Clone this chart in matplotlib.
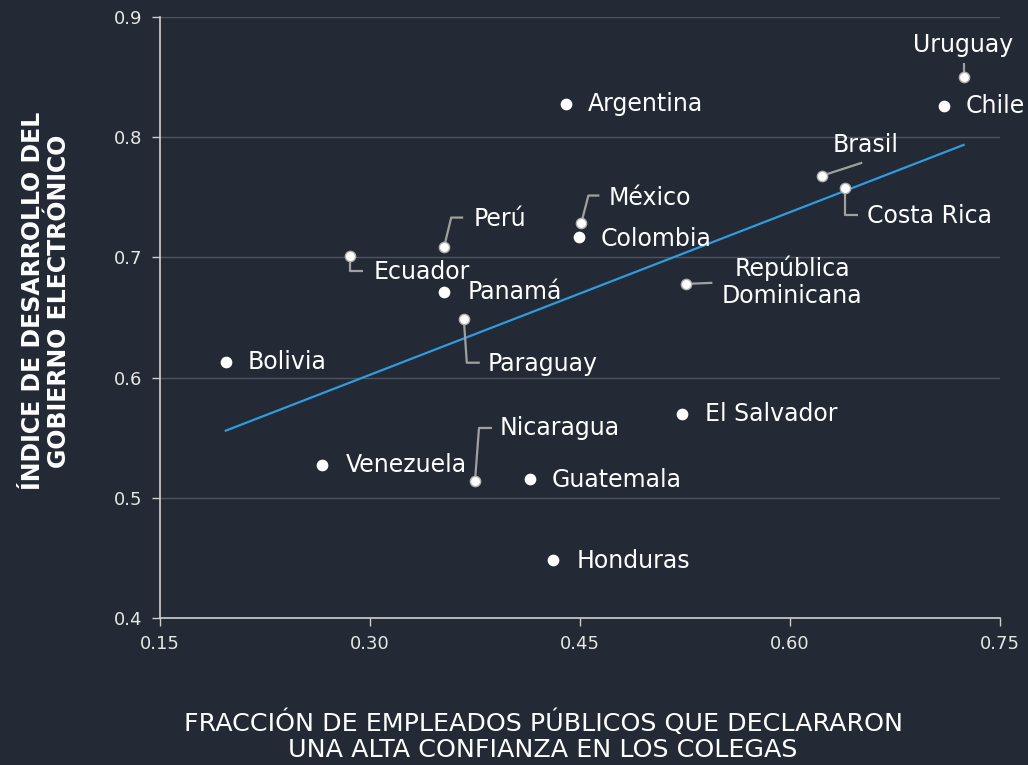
import numpy as np
import matplotlib
matplotlib.use("Agg")
import matplotlib.pyplot as plt

# ---- data ----
countries = ["Uruguay", "Chile", "Argentina", "Brasil", "Costa Rica", "México",
             "Colombia", "Perú", "Ecuador", "Panamá", "Paraguay",
             "República\nDominicana", "Bolivia", "El Salvador", "Venezuela",
             "Nicaragua", "Guatemala", "Honduras"]
trust = [0.724, 0.710, 0.440, 0.623, 0.639, 0.451,
         0.449, 0.353, 0.286, 0.353, 0.367,
         0.526, 0.197, 0.523, 0.266,
         0.375, 0.414, 0.431]
egov = [0.850, 0.826, 0.828, 0.768, 0.758, 0.729,
        0.717, 0.709, 0.701, 0.671, 0.649,
        0.678, 0.613, 0.570, 0.527,
        0.514, 0.516, 0.448]
xticks = [0.15, 0.30, 0.45, 0.60, 0.75]
xtick_labels = ["0.15", "0.30", "0.45", "0.60", "0.75"]
yticks = [0.4, 0.5, 0.6, 0.7, 0.8, 0.9]
ytick_labels = ["0.4", "0.5", "0.6", "0.7", "0.8", "0.9"]

# ---- style / label placement (pixel offsets, y up) ----
BG = "#232a35"
FONT = "DejaVu Sans"
# name: (text offset dx, dy, ha, leader vertices or None)
label_style = {
    "Uruguay": (0, 32, "center", [(0, 0), (0, 14)]),
    "Chile": (22, 0, "left", None),
    "Argentina": (22, 0, "left", None),
    "Brasil": (10, 31, "left", [(0, 0), (40, 13)]),
    "Costa Rica": (22, -28, "left", [(0, 0), (0, -27), (13, -27)]),
    "México": (27, 25, "left", [(0, 0), (7, 27), (18, 27)]),
    "Colombia": (22, -2, "left", None),
    "Perú": (29, 28, "left", [(0, 0), (7, 29), (19, 29)]),
    "Ecuador": (23, -16, "left", [(0, 0), (0, -15), (13, -15)]),
    "Panamá": (23, 0, "left", None),
    "Paraguay": (24, -45, "left", [(0, 0), (3, -44), (16, -44)]),
    "República\nDominicana": (106, 2, "center", [(0, 0), (26, 1)]),
    "Bolivia": (22, 0, "left", None),
    "El Salvador": (23, 0, "left", None),
    "Venezuela": (23, 0, "left", None),
    "Nicaragua": (25, 53, "left", [(0, 0), (4, 53), (17, 53)]),
    "Guatemala": (22, -1, "left", None),
    "Honduras": (23, -1, "left", None),
}

W, H = 1028, 765
fig = plt.figure(figsize=(W / 100, H / 100), dpi=100, facecolor=BG)
ax = fig.add_axes([160 / W, 1 - 618 / H, 840 / W, 601 / H], facecolor=BG)

ax.set_xlim(0.15, 0.75)
ax.set_ylim(0.4, 0.9)
ax.set_xticks(xticks)
ax.set_xticklabels(xtick_labels)
ax.set_yticks(yticks)
ax.set_yticklabels(ytick_labels)
for lab in ax.get_xticklabels() + ax.get_yticklabels():
    lab.set_fontfamily(FONT)
    lab.set_fontsize(13)
    lab.set_color("#e6e6e6")
ax.tick_params(axis="both", direction="out", length=6, width=1, color="#cfcfcf", pad=6)
ax.tick_params(axis="y", pad=7)

for s in ["top", "right"]:
    ax.spines[s].set_visible(False)
for s in ["left", "bottom"]:
    ax.spines[s].set_color("#d0d0d0")
    ax.spines[s].set_linewidth(1.2)

ax.grid(axis="y", color="#4d5460", linewidth=1)
ax.set_axisbelow(True)

# regression line
xs = np.array(trust)
ys = np.array(egov)
m, b = np.polyfit(xs, ys, 1)
xr = np.array([xs.min(), xs.max()])
ax.plot(xr, m * xr + b, color="#2f9be0", linewidth=1.6, zorder=3)

fig.canvas.draw()

def off_to_data(x, y, dx, dy):
    px, py = ax.transData.transform((x, y))
    return ax.transData.inverted().transform((px + dx, py + dy))

for name, x, y in zip(countries, trust, egov):
    dx, dy, ha, leader = label_style[name]
    if leader:
        pts = np.array([off_to_data(x, y, a, c) for a, c in leader])
        ax.plot(pts[:, 0], pts[:, 1], color="#a0a0a0", linewidth=1.6, zorder=4,
                solid_capstyle="butt")
        ec = "#b0b0b0"
    else:
        ec = "white"
    ax.scatter([x], [y], s=55, color="white", edgecolor=ec, linewidth=1, zorder=5)
    ax.annotate(name, (x, y), xytext=(dx, dy), textcoords="offset pixels",
                ha=ha, va="center", multialignment="center",
                fontsize=17, fontfamily=FONT, color="white", zorder=6,
                linespacing=1.15)

fig.text(543 / W, 1 - 736 / H,
         "FRACCIÓN DE EMPLEADOS PÚBLICOS QUE DECLARARON\nUNA ALTA CONFIANZA EN LOS COLEGAS",
         ha="center", va="center", fontsize=18.3, fontfamily=FONT, color="white",
         linespacing=1.12)
fig.text(46 / W, 1 - 301 / H,
         "ÍNDICE DE DESARROLLO DEL\nGOBIERNO ELECTRÓNICO",
         ha="center", va="center", rotation=90, fontsize=17, fontweight="bold",
         fontfamily=FONT, color="white", linespacing=1.15)

fig.savefig("out.png", dpi=100, facecolor=BG)
